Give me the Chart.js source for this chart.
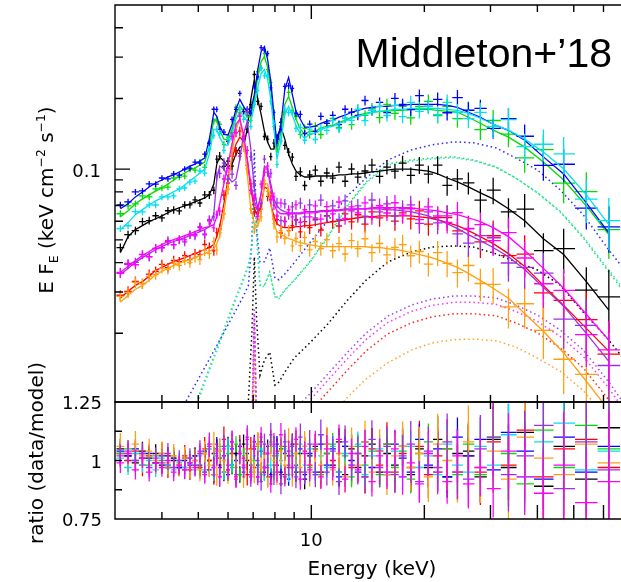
<!DOCTYPE html>
<html>
<head>
<meta charset="utf-8">
<script src="https://cdn.jsdelivr.net/npm/chart.js@4.4.0/dist/chart.umd.min.js"></script>
<style>
  html, body { margin: 0; padding: 0; background: #fff; overflow: hidden; }
  #wrap { position: relative; width: 621px; height: 582px; }
  canvas { position: absolute; left: 0; top: 0; }
</style>
</head>
<body>
<div id="wrap">
  <canvas id="spec" width="621" height="582"></canvas>
  <canvas id="ratio" width="621" height="582"></canvas>
</div>
<script>
// energy bins (keV), shared by all spectra
const energy = [
  3.1, 3.25, 3.4, 3.55, 3.7, 3.85, 4.0, 4.15, 4.3, 4.45, 4.6, 4.75, 4.9,
  5.05, 5.2, 5.35, 5.5, 5.6, 5.7, 5.85, 6.0, 6.15, 6.3, 6.45, 6.6, 6.75, 6.9, 7.05, 7.2, 7.35, 7.5, 7.65, 7.8, 7.95, 8.1, 8.3, 8.5, 8.7, 8.9, 9.1, 9.35, 9.6,
  9.9, 10.25, 10.6, 11.0, 11.4, 11.85, 12.3, 12.8, 13.3, 13.9, 14.5, 15.2, 15.9, 16.7, 17.5, 18.4, 19.4, 20.5, 21.7, 23.0, 24.5,
  26.2, 28.2, 30.5, 33.5, 37, 41.5, 47, 54, 62
];

// relative 1-sigma error per bin
const relErr = [
  0.034, 0.033, 0.033, 0.032, 0.032, 0.032, 0.031, 0.031, 0.031, 0.031, 0.030, 0.030, 0.030,
  0.032, 0.032, 0.033, 0.031, 0.032, 0.033, 0.034, 0.033, 0.032, 0.031, 0.031, 0.032, 0.033, 0.032, 0.031, 0.030, 0.030, 0.030, 0.031, 0.032, 0.034, 0.036, 0.035, 0.034, 0.034, 0.035, 0.037, 0.038, 0.039,
  0.040, 0.041, 0.042, 0.043, 0.044, 0.045, 0.046, 0.048, 0.050, 0.052, 0.054, 0.056, 0.058, 0.060, 0.063, 0.066, 0.069, 0.072, 0.076, 0.080, 0.085,
  0.090, 0.098, 0.108, 0.120, 0.135, 0.155, 0.180, 0.210, 0.250
];

// best-fit models, E F_E (keV cm^-2 s^-1)
const modelBlue = [
  0.0678, 0.0712, 0.0762, 0.0800, 0.0840, 0.0873, 0.0899, 0.0927, 0.0945, 0.0973, 0.1001, 0.1031, 0.1051,
  0.1083, 0.1115, 0.1342, 0.1747, 0.1680, 0.1523, 0.1409, 0.1396, 0.1553, 0.1798, 0.1982, 0.1850, 0.1747, 0.1765, 0.2081, 0.2656, 0.3164, 0.3323, 0.2928, 0.2363, 0.1712, 0.1278, 0.1553, 0.2185, 0.2458, 0.2081, 0.1765, 0.1631, 0.1509,
  0.1509, 0.1523, 0.1568, 0.1600, 0.1615, 0.1664, 0.1697, 0.1747, 0.1781, 0.1815, 0.1833, 0.1850, 0.1850, 0.1869, 0.1869, 0.1888, 0.1888, 0.1888, 0.1888, 0.1869, 0.1833,
  0.1747, 0.1664, 0.1553, 0.1464, 0.1328, 0.1128, 0.0954, 0.0719, 0.0536
];
const modelGreen = [
  0.0627, 0.0665, 0.0712, 0.0747, 0.0777, 0.0808, 0.0832, 0.0865, 0.0899, 0.0935, 0.0963, 0.0991, 0.1011,
  0.1041, 0.1072, 0.1241, 0.1631, 0.1599, 0.1465, 0.1342, 0.1329, 0.1479, 0.1712, 0.1851, 0.1763, 0.1663, 0.1680, 0.1982, 0.2457, 0.2871, 0.3015, 0.2709, 0.2185, 0.1599, 0.1193, 0.1437, 0.1888, 0.2041, 0.1834, 0.1631, 0.1479, 0.1409,
  0.1450, 0.1450, 0.1494, 0.1523, 0.1538, 0.1584, 0.1615, 0.1663, 0.1695, 0.1729, 0.1747, 0.1763, 0.1763, 0.1781, 0.1781, 0.1798, 0.1798, 0.1798, 0.1781, 0.1763, 0.1747,
  0.1663, 0.1568, 0.1465, 0.1369, 0.1241, 0.1072, 0.0899, 0.0698, 0.0526
];
const modelCyan = [
  0.0553, 0.0592, 0.0640, 0.0671, 0.0705, 0.0733, 0.0754, 0.0777, 0.0801, 0.0824, 0.0857, 0.0890, 0.0926,
  0.0963, 0.1001, 0.1159, 0.1479, 0.1465, 0.1369, 0.1266, 0.1266, 0.1409, 0.1631, 0.1763, 0.1680, 0.1599, 0.1599, 0.1851, 0.2228, 0.2555, 0.2656, 0.2409, 0.1982, 0.1479, 0.1104, 0.1316, 0.1712, 0.1851, 0.1695, 0.1538, 0.1409, 0.1355,
  0.1409, 0.1423, 0.1465, 0.1508, 0.1523, 0.1568, 0.1599, 0.1647, 0.1680, 0.1712, 0.1747, 0.1763, 0.1781, 0.1798, 0.1798, 0.1816, 0.1816, 0.1816, 0.1816, 0.1798, 0.1781,
  0.1729, 0.1647, 0.1553, 0.1465, 0.1342, 0.1182, 0.1001, 0.0777, 0.0580
];
const modelBlack = [
  0.0441, 0.0516, 0.0553, 0.0575, 0.0598, 0.0615, 0.0633, 0.0652, 0.0671, 0.0685, 0.0698, 0.0712, 0.0726,
  0.0740, 0.0754, 0.0777, 0.0865, 0.1051, 0.1126, 0.1083, 0.1021, 0.1051, 0.1159, 0.1241, 0.1253, 0.1479, 0.1982, 0.2409, 0.1982, 0.1712, 0.1450, 0.1303, 0.1217, 0.1217, 0.1369, 0.1508, 0.1342, 0.1159, 0.1051, 0.0981, 0.0945, 0.0926,
  0.0926, 0.0935, 0.0935, 0.0935, 0.0935, 0.0945, 0.0945, 0.0954, 0.0954, 0.0963, 0.0973, 0.0981, 0.0991, 0.1001, 0.1001, 0.1001, 0.0991, 0.0981, 0.0954, 0.0917, 0.0882,
  0.0840, 0.0793, 0.0747, 0.0678, 0.0603, 0.0506, 0.0433, 0.0332, 0.0251
];
const modelPurple = [
  0.0356, 0.0378, 0.0401, 0.0420, 0.0437, 0.0455, 0.0468, 0.0482, 0.0492, 0.0501, 0.0511, 0.0521, 0.0531,
  0.0542, 0.0553, 0.0569, 0.0646, 0.0908, 0.1031, 0.1001, 0.0926, 0.0882, 0.0908, 0.1104, 0.1409, 0.1599, 0.1217, 0.0824, 0.0678, 0.0785, 0.1031, 0.1001, 0.0865, 0.0747, 0.0698, 0.0671, 0.0659, 0.0652, 0.0652, 0.0652, 0.0652, 0.0659,
  0.0659, 0.0659, 0.0665, 0.0665, 0.0671, 0.0671, 0.0678, 0.0678, 0.0678, 0.0678, 0.0678, 0.0678, 0.0671, 0.0671, 0.0665, 0.0659, 0.0646, 0.0633, 0.0609, 0.0586, 0.0558,
  0.0526, 0.0496, 0.0464, 0.0424, 0.0374, 0.0314, 0.0261, 0.0200, 0.0152
];
const modelMagenta = [
  0.0364, 0.0385, 0.0408, 0.0429, 0.0446, 0.0464, 0.0477, 0.0492, 0.0501, 0.0511, 0.0521, 0.0531, 0.0542,
  0.0553, 0.0564, 0.0569, 0.0580, 0.0627, 0.0712, 0.0865, 0.1051, 0.1278, 0.1553, 0.1631, 0.1409, 0.1104, 0.0865, 0.0712, 0.0678, 0.0785, 0.1001, 0.1001, 0.0824, 0.0712, 0.0665, 0.0646, 0.0646, 0.0646, 0.0646, 0.0646, 0.0646, 0.0652,
  0.0652, 0.0652, 0.0659, 0.0659, 0.0665, 0.0665, 0.0671, 0.0671, 0.0678, 0.0678, 0.0685, 0.0685, 0.0685, 0.0685, 0.0685, 0.0685, 0.0678, 0.0671, 0.0665, 0.0652, 0.0640,
  0.0621, 0.0598, 0.0564, 0.0516, 0.0450, 0.0378, 0.0311, 0.0241, 0.0187
];
const modelRed = [
  0.0282, 0.0302, 0.0320, 0.0332, 0.0350, 0.0371, 0.0382, 0.0393, 0.0405, 0.0412, 0.0420, 0.0429, 0.0437,
  0.0446, 0.0455, 0.0464, 0.0477, 0.0516, 0.0569, 0.0712, 0.0908, 0.1104, 0.1278, 0.1369, 0.1316, 0.1104, 0.0824, 0.0678, 0.0633, 0.0712, 0.0840, 0.0824, 0.0712, 0.0627, 0.0586, 0.0569, 0.0564, 0.0564, 0.0564, 0.0569, 0.0569, 0.0575,
  0.0575, 0.0580, 0.0586, 0.0592, 0.0598, 0.0603, 0.0609, 0.0615, 0.0621, 0.0627, 0.0627, 0.0633, 0.0633, 0.0633, 0.0633, 0.0633, 0.0627, 0.0621, 0.0609, 0.0592, 0.0575,
  0.0547, 0.0516, 0.0482, 0.0437, 0.0385, 0.0320, 0.0263, 0.0210, 0.0168
];
const modelOrange = [
  0.0271, 0.0290, 0.0308, 0.0320, 0.0336, 0.0356, 0.0367, 0.0378, 0.0389, 0.0397, 0.0405, 0.0412, 0.0420,
  0.0429, 0.0437, 0.0446, 0.0459, 0.0482, 0.0516, 0.0646, 0.0865, 0.1159, 0.1479, 0.1631, 0.1342, 0.0954, 0.0678, 0.0586, 0.0569, 0.0646, 0.0865, 0.0865, 0.0712, 0.0586, 0.0542, 0.0526, 0.0516, 0.0506, 0.0501, 0.0492, 0.0487, 0.0482,
  0.0477, 0.0473, 0.0468, 0.0468, 0.0468, 0.0468, 0.0468, 0.0468, 0.0468, 0.0468, 0.0464, 0.0464, 0.0459, 0.0455, 0.0450, 0.0441, 0.0433, 0.0424, 0.0412, 0.0397, 0.0382,
  0.0360, 0.0336, 0.0311, 0.0282, 0.0243, 0.0204, 0.0165, 0.0125, 0.0094
];

// data / model for each spectrum (bottom panel)
const ratioBlue = [
  1.04, 1.02, 1.05, 1.01, 1.03, 0.99, 1.02, 0.98, 1.01, 0.97, 1.00, 0.98, 1.02,
  0.98, 1.04, 0.96, 1.03, 1.07, 0.97, 1.02, 0.94, 1.05, 1.00, 1.06, 0.95, 1.03, 0.98, 1.08, 0.93, 1.04, 0.97, 1.06, 0.94, 1.02, 1.07, 0.95, 1.03, 0.92, 1.06, 0.98, 1.05, 0.94,
  1.03, 0.95, 1.07, 0.98, 1.05, 0.93, 1.06, 1.00, 0.95, 1.08, 0.97, 1.04, 0.94, 1.07, 1.01, 0.95, 1.09, 0.98, 1.05, 0.93, 1.10,
  1.02, 1.09, 0.96, 1.12, 1.04, 0.92, 1.10, 0.95, 1.06
];
const ratioGreen = [
  1.03, 1.05, 1.00, 1.03, 0.98, 1.02, 1.00, 0.97, 1.02, 0.99, 0.97, 1.01, 0.98,
  1.03, 0.95, 1.05, 0.98, 1.02, 1.06, 0.95, 1.03, 0.97, 1.07, 0.94, 1.02, 1.05, 0.96, 1.00, 1.06, 0.94, 1.03, 0.98, 1.07, 0.95, 1.02, 1.06, 0.93, 1.04, 0.97, 1.03, 0.95, 1.06,
  0.97, 1.05, 0.94, 1.03, 1.07, 0.95, 1.02, 0.93, 1.06, 0.98, 1.04, 0.94, 1.07, 0.97, 1.04, 0.92, 1.03, 1.08, 0.95, 1.05, 0.94,
  1.07, 0.94, 1.10, 1.03, 0.90, 1.13, 0.97, 1.15, 1.05
];
const ratioCyan = [
  1.01, 0.97, 1.03, 0.98, 1.00, 0.96, 1.01, 0.98, 0.96, 1.00, 0.97, 0.99, 0.96,
  1.02, 0.96, 1.05, 0.94, 1.01, 1.04, 0.95, 1.06, 0.98, 0.94, 1.04, 0.97, 1.07, 0.95, 1.02, 0.97, 1.05, 0.94, 1.03, 0.98, 1.06, 0.95, 1.00, 1.05, 0.94, 1.03, 0.97, 1.07, 0.98,
  1.05, 0.94, 1.02, 0.97, 1.06, 0.95, 1.03, 0.98, 1.07, 0.94, 1.02, 1.05, 0.95, 1.04, 0.93, 1.06, 0.97, 1.02, 0.94, 1.07, 0.98,
  0.95, 1.06, 0.98, 1.11, 0.93, 1.08, 1.16, 0.96, 1.04
];
const ratioBlack = [
  1.05, 1.02, 0.99, 1.04, 1.01, 1.03, 0.98, 1.02, 1.00, 0.97, 1.01, 0.99, 1.02,
  0.97, 1.03, 1.00, 0.94, 1.05, 1.01, 0.95, 1.06, 0.98, 1.03, 0.94, 1.07, 1.00, 0.95, 1.05, 0.98, 1.08, 0.95, 1.03, 0.93, 1.06, 0.98, 1.05, 0.94, 1.02, 1.07, 0.95, 1.03, 0.92,
  1.02, 1.06, 0.95, 1.03, 0.98, 1.08, 0.94, 1.05, 0.97, 1.02, 1.07, 0.95, 1.03, 0.98, 1.06, 0.94, 1.05, 0.97, 1.09, 0.93, 1.03,
  1.04, 0.93, 1.09, 0.97, 1.12, 0.89, 1.06, 0.92, 1.14
];
const ratioPurple = [
  1.02, 1.04, 1.00, 1.03, 0.97, 1.01, 0.99, 1.03, 0.97, 1.00, 0.96, 1.01, 0.98,
  1.04, 0.95, 1.07, 0.97, 1.03, 0.93, 1.06, 0.98, 1.08, 0.94, 1.03, 0.97, 1.10, 0.93, 1.05, 1.00, 0.91, 1.07, 0.97, 1.11, 0.94, 1.03, 0.90, 1.08, 0.98, 1.06, 0.93, 1.10, 0.95,
  1.07, 0.94, 1.11, 0.95, 1.04, 0.91, 1.08, 0.98, 1.03, 0.93, 1.09, 0.97, 1.06, 0.94, 1.02, 1.07, 0.91, 1.04, 0.97, 1.08, 0.95,
  0.92, 1.05, 1.10, 0.94, 1.02, 1.15, 0.88, 1.08, 0.96
];
const ratioMagenta = [
  0.99, 1.03, 0.96, 1.01, 0.95, 0.99, 0.97, 1.00, 0.95, 0.98, 0.96, 0.99, 0.97,
  1.03, 0.94, 1.06, 0.97, 1.02, 0.93, 1.05, 0.96, 1.08, 0.92, 1.03, 0.98, 1.09, 0.94, 1.06, 0.93, 1.10, 0.97, 1.03, 0.90, 1.07, 0.95, 1.11, 0.93, 1.04, 0.97, 1.09, 0.92, 1.03,
  0.96, 1.07, 0.93, 1.05, 0.97, 1.09, 0.92, 1.03, 0.96, 1.06, 0.91, 1.02, 0.95, 1.05, 0.93, 0.99, 0.90, 1.03, 0.95, 0.91, 1.02,
  0.90, 0.97, 0.88, 1.04, 0.93, 0.86, 0.98, 0.82, 0.91
];
const ratioRed = [
  1.03, 1.00, 1.04, 0.98, 1.02, 0.99, 1.03, 0.97, 1.01, 0.98, 1.02, 0.96, 1.00,
  0.97, 1.05, 1.00, 0.94, 1.04, 0.98, 1.09, 0.96, 1.03, 0.93, 1.06, 1.01, 0.94, 1.05, 0.97, 1.07, 0.95, 1.03, 0.93, 1.08, 0.98, 1.04, 0.94, 1.06, 0.97, 1.02, 1.07, 0.95, 1.04,
  0.98, 1.05, 0.94, 1.07, 1.00, 0.95, 1.06, 0.97, 1.03, 0.93, 1.05, 0.98, 1.07, 0.95, 1.03, 0.97, 1.06, 0.94, 1.02, 1.05, 0.95,
  1.02, 0.95, 1.08, 0.98, 1.13, 0.93, 1.05, 1.09, 0.97
];
const ratioOrange = [
  1.06, 1.03, 1.07, 1.02, 1.04, 1.00, 1.03, 0.99, 1.02, 0.98, 1.01, 0.97, 1.00,
  0.96, 1.03, 0.98, 1.07, 0.94, 1.04, 1.00, 0.95, 1.06, 0.97, 1.03, 0.93, 1.05, 1.00, 0.95, 1.07, 0.97, 1.03, 0.93, 1.06, 1.00, 0.95, 1.04, 0.98, 1.08, 0.94, 1.03, 0.97, 1.06,
  0.95, 1.04, 0.98, 1.07, 0.96, 1.03, 0.93, 1.06, 0.98, 1.08, 0.95, 1.04, 0.94, 1.02, 1.06, 0.97, 1.03, 0.93, 1.07, 1.00, 0.95,
  1.08, 0.97, 1.04, 0.92, 1.10, 1.01, 0.94, 1.07, 0.99
];

// model components (dotted), on their own energy grid
const compEnergy = [3.9, 4.3, 4.8, 5.3, 5.8, 6.3, 6.6, 6.8, 6.95, 7.05, 7.15, 7.3, 7.5, 7.75, 8.0, 8.2, 8.5, 9.0, 9.9, 11, 12.5, 14, 16, 18.5, 21, 24, 27, 31, 35, 40, 46, 53, 62, 70];
const compBlue = [0.00624, 0.00829, 0.01135, 0.01509, 0.01966, 0.02513, 0.02884, 0.0321, 0.0499, 0.1208, 0.0551, 0.0403, 0.0403, 0.0462, 0.0344, 0.0338, 0.0358, 0.0399, 0.0485, 0.0596, 0.0770, 0.0918, 0.1095, 0.1209, 0.1270, 0.1307, 0.1295, 0.1233, 0.1117, 0.0993, 0.0816, 0.0639, 0.0453, 0.0354];
const compGreen = [0.00378, 0.00571, 0.00897, 0.01368, 0.02005, 0.02856, 0.0344, 0.0391, 0.0476, 0.0900, 0.0525, 0.0321, 0.0321, 0.0365, 0.0288, 0.0283, 0.0306, 0.0337, 0.0403, 0.0510, 0.0705, 0.0883, 0.1053, 0.1095, 0.1117, 0.1128, 0.1095, 0.1023, 0.0918, 0.0793, 0.0658, 0.0510, 0.0365, 0.0283];
const compCyan = [0.0036, 0.0055, 0.0087, 0.0133, 0.0195, 0.0279, 0.0337, 0.0384, 0.0468, 0.0880, 0.0515, 0.0316, 0.0317, 0.0362, 0.0286, 0.0281, 0.0304, 0.0335, 0.0400, 0.0506, 0.0698, 0.0872, 0.1040, 0.1083, 0.1106, 0.1118, 0.1088, 0.1019, 0.0917, 0.0795, 0.0662, 0.0516, 0.0372, 0.0290];
const compBlack = [0.00114, 0.00169, 0.00263, 0.00389, 0.00549, 0.00774, 0.00923, 0.01039, 0.02065, 0.0423, 0.0228, 0.01328, 0.01538, 0.01664, 0.01204, 0.01240, 0.01368, 0.01569, 0.01818, 0.02169, 0.02773, 0.0337, 0.0403, 0.0444, 0.0466, 0.0471, 0.0466, 0.0436, 0.0403, 0.0372, 0.0321, 0.0246, 0.01872, 0.01464];
const compPurple = [0.000369, 0.000603, 0.000985, 0.00161, 0.00238, 0.00336, 0.00409, 0.00451, 0.00854, 0.02563, 0.00854, 0.00544, 0.00588, 0.00649, 0.00716, 0.00767, 0.00837, 0.00942, 0.01102, 0.01328, 0.01664, 0.02005, 0.02369, 0.02640, 0.02800, 0.02884, 0.02884, 0.0283, 0.0264, 0.02393, 0.02065, 0.01698, 0.0124, 0.00942];
const compMagenta = [0.000347, 0.000567, 0.000926, 0.00151, 0.00224, 0.00316, 0.00385, 0.00424, 0.00803, 0.0242, 0.00803, 0.00511, 0.00553, 0.0061, 0.00673, 0.00721, 0.00787, 0.00886, 0.01036, 0.01248, 0.01564, 0.01885, 0.02227, 0.02482, 0.02632, 0.02711, 0.02711, 0.0266, 0.02482, 0.0225, 0.01941, 0.01596, 0.01166, 0.00885];
const compRed = [0.00031, 0.000507, 0.000827, 0.00135, 0.002, 0.00282, 0.00344, 0.00379, 0.00717, 0.0215, 0.00717, 0.00457, 0.00494, 0.00545, 0.00601, 0.00644, 0.00703, 0.00791, 0.00926, 0.01116, 0.01398, 0.01684, 0.0199, 0.02218, 0.02352, 0.02423, 0.02423, 0.02377, 0.02218, 0.0201, 0.01735, 0.01426, 0.01042, 0.00791];
const compOrange = [0.00024, 0.00039, 0.00063, 0.00103, 0.00152, 0.00215, 0.00262, 0.00289, 0.0055, 0.0170, 0.0055, 0.00348, 0.00376, 0.00415, 0.00458, 0.00491, 0.00536, 0.00603, 0.00705, 0.0085, 0.0107, 0.0128, 0.0150, 0.0170, 0.0182, 0.0188, 0.0189, 0.0186, 0.0175, 0.0157, 0.0138, 0.0114, 0.0085, 0.0063];

// spectra, in drawing order, and how noisy each one is
const seriesNames = ['black', 'red', 'green', 'blue', 'cyan', 'orange', 'purple', 'magenta'];
const errScale = [1.2, 1.5, 1.0, 0.9, 1.0, 1.6, 1.4, 1.3];

// axis ticks
const xTicks = [4, 5, 6, 7, 8, 9, 10, 20, 30, 40, 50, 60];
const xTickLabels = [10];
const yTicksSpec = [0.02, 0.03, 0.04, 0.05, 0.06, 0.07, 0.08, 0.09, 0.1, 0.2, 0.3, 0.4];
const yTickLabelsSpec = [0.1];
const yTicksRatio = [0.75, 0.875, 1, 1.125, 1.25];
const yTickLabelsRatio = ['0.75', '1', '1.25'];

const modelOf = { black: modelBlack, red: modelRed, green: modelGreen, blue: modelBlue, cyan: modelCyan, orange: modelOrange, purple: modelPurple, magenta: modelMagenta };
const ratioOf = { black: ratioBlack, red: ratioRed, green: ratioGreen, blue: ratioBlue, cyan: ratioCyan, orange: ratioOrange, purple: ratioPurple, magenta: ratioMagenta };
const compOf = { black: compBlack, red: compRed, green: compGreen, blue: compBlue, cyan: compCyan, orange: compOrange, purple: compPurple, magenta: compMagenta };

const lineColor = {
  black: '#000000', red: '#ff0000', green: '#00dd00', blue: '#0000ff',
  cyan: '#00e0f0', orange: '#ffa010', purple: '#9a30e8', magenta: '#ff00ff'
};
const dotColor = {
  black: '#000000', red: '#ff2020', green: '#20e040', blue: '#2a2aff',
  cyan: '#20e8d0', orange: '#ffa020', purple: '#a040f0', magenta: '#ff30ff'
};

const FONT = '"DejaVu Sans", sans-serif';
const n = energy.length;
const binLo = energy.map((e, i) => i > 0 ? Math.sqrt(energy[i - 1] * e) : e * e / Math.sqrt(e * energy[1]));
const binHi = energy.map((e, i) => i < n - 1 ? Math.sqrt(e * energy[i + 1]) : e * e / Math.sqrt(energy[n - 2] * e));

// ---- error-bar crosses, drawn just under each dataset ----
const crossPlugin = {
  id: 'crosses',
  beforeDatasetDraw(chart, args) {
    const ds = chart.data.datasets[args.index];
    if (!ds.crosses) return;
    const ctx = chart.ctx, a = chart.chartArea, xs = chart.scales.x, ys = chart.scales.y;
    ctx.save();
    ctx.beginPath();
    ctx.rect(a.left, a.top, a.right - a.left, a.bottom - a.top);
    ctx.clip();
    ctx.strokeStyle = ds.crossColor;
    ctx.lineWidth = 1.3;
    ctx.beginPath();
    ds.crosses.forEach(c => {
      const px = xs.getPixelForValue(c.x), py = ys.getPixelForValue(c.y);
      ctx.moveTo(xs.getPixelForValue(c.xlo), py);
      ctx.lineTo(xs.getPixelForValue(c.xhi), py);
      ctx.moveTo(px, ys.getPixelForValue(c.ylo));
      ctx.lineTo(px, ys.getPixelForValue(c.yhi));
    });
    ctx.stroke();
    ctx.restore();
  }
};

function richText(ctx, parts, size, x, y) {
  ctx.save();
  ctx.translate(x, y);
  ctx.rotate(-Math.PI / 2);
  let total = 0;
  parts.forEach(p => {
    ctx.font = (size * p.s) + 'px ' + FONT;
    p.w = ctx.measureText(p.t).width;
    total += p.w;
  });
  let cx = -total / 2;
  ctx.textAlign = 'left';
  ctx.textBaseline = 'alphabetic';
  parts.forEach(p => {
    ctx.font = (size * p.s) + 'px ' + FONT;
    ctx.fillText(p.t, cx, p.dy * size);
    cx += p.w;
  });
  ctx.restore();
}

// ---- frame, inward ticks and labels of the spectrum panel ----
const specFrame = {
  id: 'specFrame',
  afterDraw(chart) {
    const ctx = chart.ctx, a = chart.chartArea, xs = chart.scales.x, ys = chart.scales.y;
    ctx.save();
    ctx.strokeStyle = '#000';
    ctx.lineWidth = 1.4;
    ctx.beginPath();
    ctx.moveTo(a.right + 5, a.top); ctx.lineTo(a.left, a.top);
    ctx.lineTo(a.left, a.bottom); ctx.lineTo(a.right + 5, a.bottom);
    xTicks.forEach(v => {
      const px = xs.getPixelForValue(v);
      const lt = v === 10 ? 14 : 7, lb = v === 10 ? 15 : 7;
      ctx.moveTo(px, a.top); ctx.lineTo(px, a.top + lt);
      ctx.moveTo(px, a.bottom); ctx.lineTo(px, a.bottom - lb);
    });
    yTicksSpec.forEach(v => {
      const py = ys.getPixelForValue(v), len = yTickLabelsSpec.includes(v) ? 15 : 8;
      ctx.moveTo(a.left, py); ctx.lineTo(a.left + len, py);
    });
    ctx.stroke();

    ctx.fillStyle = '#000';
    ctx.font = '18px ' + FONT;
    ctx.textAlign = 'right';
    ctx.textBaseline = 'alphabetic';
    yTickLabelsSpec.forEach(v => ctx.fillText(String(v), 101, ys.getPixelForValue(v) + 7.5));

    richText(ctx, [
      { t: 'E F', s: 1, dy: 0 },
      { t: 'E', s: 0.62, dy: 0.25 },
      { t: ' (keV cm', s: 1, dy: 0 },
      { t: '\u22122', s: 0.62, dy: -0.42 },
      { t: ' s', s: 1, dy: 0 },
      { t: '\u22121', s: 0.62, dy: -0.42 },
      { t: ')', s: 1, dy: 0 }
    ], 20, 53, 200);

    ctx.font = '41px "Liberation Sans", Arial, sans-serif';
    ctx.textAlign = 'right';
    ctx.fillText('Middleton+\u201918', 612, 67);
    ctx.restore();
  }
};

// ---- frame, ticks and labels of the ratio panel ----
const ratioFrame = {
  id: 'ratioFrame',
  afterDraw(chart) {
    const ctx = chart.ctx, a = chart.chartArea, xs = chart.scales.x, ys = chart.scales.y;
    ctx.save();
    ctx.strokeStyle = '#000';
    ctx.lineWidth = 1.4;
    ctx.beginPath();
    ctx.moveTo(a.right + 5, a.top); ctx.lineTo(a.left, a.top);
    ctx.lineTo(a.left, a.bottom); ctx.lineTo(a.right + 5, a.bottom);
    xTicks.forEach(v => {
      const px = xs.getPixelForValue(v);
      const lt = v === 10 ? 11 : 7, lb = v >= 10 ? 14 : 7;
      ctx.moveTo(px, a.top); ctx.lineTo(px, a.top + lt);
      ctx.moveTo(px, a.bottom); ctx.lineTo(px, a.bottom - lb);
    });
    yTicksRatio.forEach(v => {
      const py = ys.getPixelForValue(v), len = (v === 0.75 || v === 1.25) ? 14 : 7;
      ctx.moveTo(a.left, py); ctx.lineTo(a.left + len, py);
    });
    ctx.stroke();

    ctx.fillStyle = '#000';
    ctx.font = '18px ' + FONT;
    ctx.textAlign = 'right';
    ctx.textBaseline = 'alphabetic';
    yTickLabelsRatio.forEach(t => ctx.fillText(t, 102, ys.getPixelForValue(Number(t)) + 7));
    ctx.textAlign = 'center';
    xTickLabels.forEach(v => ctx.fillText(String(v), xs.getPixelForValue(v), 546));

    ctx.font = '20px ' + FONT;
    ctx.fillText('Energy (keV)', 372, 575);
    richText(ctx, [{ t: 'ratio (data/model)', s: 1, dy: 0 }], 20, 43, 453);
    ctx.restore();
  }
};

// ---- datasets ----
const specSets = [];
seriesNames.forEach(s => specSets.push({
  data: compEnergy.map((e, i) => ({ x: e, y: compOf[s][i] })),
  borderColor: dotColor[s],
  borderWidth: 1.5,
  borderDash: [1.5, 3],
  pointRadius: 0,
  fill: false
}));
seriesNames.forEach((s, k) => {
  const m = modelOf[s], r = ratioOf[s];
  specSets.push({
    data: energy.map((e, i) => ({ x: e, y: m[i] })),
    borderColor: lineColor[s],
    borderWidth: 1.3,
    pointRadius: 0,
    fill: false,
    crossColor: lineColor[s],
    crosses: energy.map((e, i) => {
      const d = m[i] * r[i], err = relErr[i] * errScale[k] * d;
      return { x: e, y: d, xlo: binLo[i], xhi: binHi[i], ylo: d - err, yhi: d + err };
    })
  });
});
specSets.forEach((d, i) => { d.order = specSets.length - i; });

const ratioSets = seriesNames.map((s, k) => {
  const r = ratioOf[s];
  return {
    data: energy.map((e, i) => ({ x: e, y: r[i] })),
    showLine: false,
    pointRadius: 0,
    crossColor: lineColor[s],
    crosses: energy.map((e, i) => {
      const err = relErr[i] * errScale[k] * r[i];
      return { x: e, y: r[i], xlo: binLo[i], xhi: binHi[i], ylo: r[i] - err, yhi: r[i] + err };
    })
  };
});
ratioSets.forEach((d, i) => { d.order = ratioSets.length - i; });

const common = {
  responsive: false,
  animation: false,
  devicePixelRatio: 1,
  plugins: { legend: { display: false }, tooltip: { enabled: false } },
  elements: { line: { tension: 0 }, point: { radius: 0 } }
};

new Chart(document.getElementById('spec'), {
  type: 'line',
  data: { datasets: specSets },
  options: Object.assign({}, common, {
    layout: { padding: { left: 115, top: 5, right: 0, bottom: 180 } },
    scales: {
      x: { type: 'logarithmic', min: 3, max: 66.8, display: false },
      y: { type: 'logarithmic', min: 0.0102, max: 0.5, display: false }
    }
  }),
  plugins: [crossPlugin, specFrame]
});

new Chart(document.getElementById('ratio'), {
  type: 'scatter',
  data: { datasets: ratioSets },
  options: Object.assign({}, common, {
    layout: { padding: { left: 115, top: 402, right: 0, bottom: 63 } },
    scales: {
      x: { type: 'logarithmic', min: 3, max: 66.8, display: false },
      y: { type: 'linear', min: 0.75, max: 1.25, display: false }
    }
  }),
  plugins: [crossPlugin, ratioFrame]
});
</script>
</body>
</html>
